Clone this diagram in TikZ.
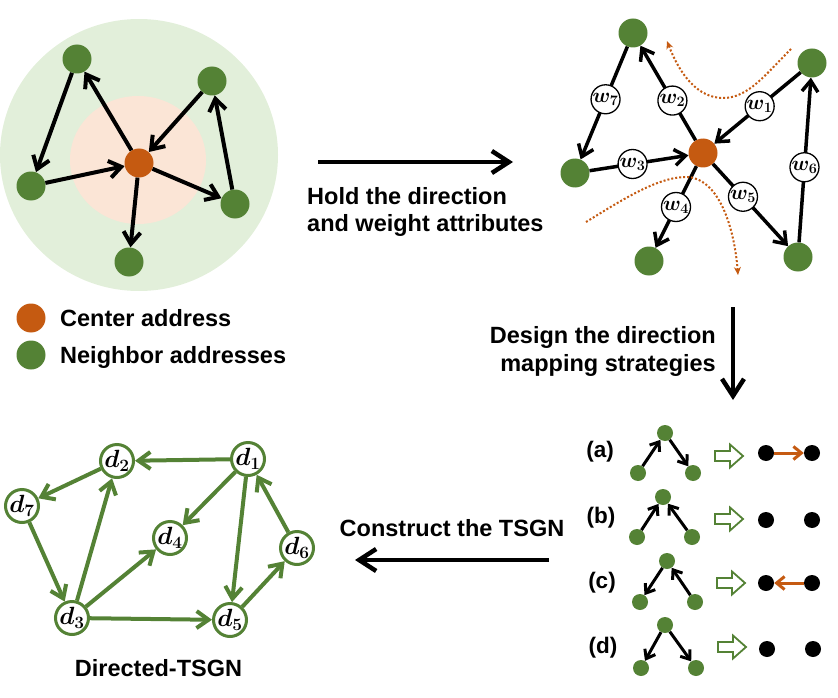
\documentclass[tikz,border=0pt]{standalone}
\usepackage{fontspec}
\setmainfont{Liberation Sans}
\usetikzlibrary{arrows.meta}
\definecolor{ngreen}{HTML}{548235}
\definecolor{corange}{HTML}{C55A11}
\definecolor{lgreen}{HTML}{E2EFDA}
\definecolor{lpink}{HTML}{FBE5D6}
\tikzset{
  hollowarr/.pic={\draw[ngreen, line width=1.8pt, fill=white, line join=miter]
    (0,-5) -- (15,-5) -- (15,-11.5) -- (28,0) -- (15,11.5) -- (15,5) -- (0,5) -- cycle;}
}
\begin{document}
\begin{tikzpicture}[x=1pt,y=-1pt,
  gnode/.style={circle, fill=ngreen, minimum size=29pt, inner sep=0},
  onode/.style={circle, fill=corange, minimum size=29pt, inner sep=0},
  sgnode/.style={circle, fill=ngreen, minimum size=16pt, inner sep=0},
  bdot/.style={circle, fill=black, minimum size=16pt, inner sep=0},
  wnode/.style={circle, draw=black, line width=1.3pt, fill=white, minimum size=29pt, inner sep=0,
    font=\fontsize{22}{24}\selectfont\boldmath},
  dnode/.style={circle, draw=ngreen, line width=3pt, fill=white, minimum size=30pt, inner sep=0,
    font=\fontsize{25}{26}\selectfont\boldmath},
  bedge/.style={line width=4pt, -{Straight Barb[length=12pt,width=17pt]}},
  medge/.style={line width=3.5pt, -{Straight Barb[length=11pt,width=16pt]}},
  gedge/.style={draw=ngreen, line width=4pt, -{Straight Barb[length=12pt,width=17pt]}},
  sedge/.style={line width=3pt, -{Straight Barb[length=8pt,width=12pt]}},
  oedge/.style={draw=corange, line width=3pt, -{Straight Barb[length=8pt,width=13pt]}},
  parrow/.style={line width=4.5pt, -{Straight Barb[length=17pt,width=22pt]}},
  dotcurve/.style={draw=corange, line width=2pt, dash pattern=on 2pt off 2pt,
    -{Stealth[length=8pt,width=7pt]}},
  tlabel/.style={font=\fontsize{23.5}{27}\selectfont\bfseries, inner sep=0},
  slabel/.style={font=\fontsize{22.5}{25}\selectfont\bfseries, inner sep=0}
]
\useasboundingbox (0,0) rectangle (838,698);

% ---------- top-left graph ----------
\fill[lgreen] (139,155) ellipse [x radius=139, y radius=136];
\fill[lpink] (138,160) ellipse [x radius=68, y radius=64];
\node[onode] (c1) at (139,163) {};
\node[gnode] (a1) at (77,59) {};
\node[gnode] (b1) at (212,81) {};
\node[gnode] (e1) at (31,186) {};
\node[gnode] (f1) at (235,204) {};
\node[gnode] (g1) at (129,262) {};
\draw[bedge] (c1) -- (a1);
\draw[bedge] (b1) -- (c1);
\draw[bedge] (e1) -- (c1);
\draw[bedge] (c1) -- (f1);
\draw[bedge] (c1) -- (g1);
\draw[bedge] (a1) -- (e1);
\draw[bedge] (f1) -- (b1);

% legend
\node[onode] (lo) at (31,318) {};
\node[tlabel, anchor=base west] (lot) at (60,326) {Center address};
\node[gnode] (lg) at (31,355) {};
\node[tlabel, anchor=base west] (lgt) at (60,363.3) {Neighbor addresses};

% ---------- process arrow 1 ----------
\coordinate (p1s) at (318,162);
\coordinate (p1e) at (513,162);
\draw[parrow] (p1s) -- (p1e);
\node[tlabel, anchor=north west, align=left] (holdt) at (307,187) {Hold the direction\\and weight attributes};

% ---------- top-right graph ----------
\node[onode] (c2) at (703,153) {};
\node[gnode] (t1) at (633,33) {};
\node[gnode] (t2) at (812,63) {};
\node[gnode] (t3) at (575,173) {};
\node[gnode] (t4) at (649,261) {};
\node[gnode] (t5) at (798,257) {};
\draw[medge] (c2) -- node[wnode, pos=0.42] (w2) {$w_2$} (t1);
\draw[medge] (t2) -- node[wnode, pos=0.475] (w1) {$w_1$} (c2);
\draw[medge] (t3) -- node[wnode, pos=0.435] (w3) {$w_3$} (c2);
\draw[medge] (c2) -- node[wnode, pos=0.5] (w4) {$w_4$} (t4);
\draw[medge] (c2) -- node[wnode, pos=0.40] (w5) {$w_5$} (t5);
\draw[medge] (t5) -- node[wnode, pos=0.456] (w6) {$w_6$} (t2);
\draw[medge] (t1) -- node[wnode, pos=0.467] (w7) {$w_7$} (t3);
% dotted partition curves
\coordinate (q1s) at (791,49);
\coordinate (q1m) at (723,98);
\coordinate (q1e) at (667,41);
\draw[dotcurve] (q1s) .. controls (765,75) and (748,98) .. (q1m) .. controls (698,98) and (680,75) .. (q1e);
\coordinate (q2s) at (586,222);
\coordinate (q2m) at (688,177);
\coordinate (q2e) at (738,275);
\draw[dotcurve] (q2s) .. controls (625,198) and (660,176) .. (q2m) .. controls (722,180) and (735,235) .. (q2e);

% ---------- process arrow 2 ----------
\coordinate (p2s) at (733,307);
\coordinate (p2e) at (733,400);
\draw[parrow] (p2s) -- (p2e);
\node[tlabel, anchor=north east, align=right, font=\fontsize{23.5}{28.5}\selectfont\bfseries] (dest) at (716,326) {Design the direction\\mapping strategies};

% ---------- strategies ----------
% (a)
\node[slabel, anchor=base] (la) at (600,457) {(a)};
\node[sgnode] (at) at (665,433) {};
\node[sgnode] (al) at (638,473) {};
\node[sgnode] (ar) at (693,473) {};
\draw[sedge] (al) -- (at);
\draw[sedge] (at) -- (ar);
\pic at (715,456) {hollowarr};
\node[bdot] (ad1) at (766,453) {};
\node[bdot] (ad2) at (812,453) {};
\draw[oedge] (ad1) -- (ad2);
% (b)
\node[slabel, anchor=base] (lb) at (601,523.5) {(b)};
\node[sgnode] (bt) at (663,497) {};
\node[sgnode] (bl) at (637,537) {};
\node[sgnode] (br) at (692,537) {};
\draw[sedge] (bl) -- (bt);
\draw[sedge] (br) -- (bt);
\pic at (715,519) {hollowarr};
\node[bdot] (bd1) at (766,520) {};
\node[bdot] (bd2) at (812,520) {};
% (c)
\node[slabel, anchor=base] (lc) at (602,588) {(c)};
\node[sgnode] (ct) at (667,561) {};
\node[sgnode] (cl) at (640,602) {};
\node[sgnode] (cr) at (695,602) {};
\draw[sedge] (ct) -- (cl);
\draw[sedge] (cr) -- (ct);
\pic at (717,583) {hollowarr};
\node[bdot] (cd1) at (766,583) {};
\node[bdot] (cd2) at (812,583) {};
\draw[oedge] (cd2) -- (cd1);
% (d)
\node[slabel, anchor=base] (ld) at (603,653.5) {(d)};
\node[sgnode] (dt) at (665,625) {};
\node[sgnode] (dl) at (641,668) {};
\node[sgnode] (dr) at (696,668) {};
\draw[sedge] (dt) -- (dl);
\draw[sedge] (dt) -- (dr);
\pic at (718,647) {hollowarr};
\node[bdot] (dd1) at (767,649) {};
\node[bdot] (dd2) at (813,649) {};

% ---------- process arrow 3 ----------
\coordinate (p3s) at (549,560);
\coordinate (p3e) at (355,560);
\draw[parrow] (p3s) -- (p3e);
\node[tlabel, anchor=base] (cons) at (452,536.7) {Construct the TSGN};

% ---------- directed TSGN ----------
\node[dnode] (d1) at (248,459) {$d_1$};
\node[dnode] (d2) at (117,461) {$d_2$};
\node[dnode] (d3) at (72,618) {$d_3$};
\node[dnode] (d4) at (170,538) {$d_4$};
\node[dnode] (d5) at (230,620) {$d_5$};
\node[dnode] (d6) at (297,548) {$d_6$};
\node[dnode] (d7) at (22,506) {$d_7$};
\draw[gedge] (d1) -- (d2);
\draw[gedge] (d2) -- (d7);
\draw[gedge] (d7) -- (d3);
\draw[gedge] (d3) -- (d2);
\draw[gedge] (d3) -- (d4);
\draw[gedge] (d3) -- (d5);
\draw[gedge] (d1) -- (d4);
\draw[gedge] (d1) -- (d5);
\draw[gedge] (d5) -- (d6);
\draw[gedge] (d6) -- (d1);
\node[tlabel, anchor=base] (dtsgn) at (158.5,676.5) {Directed-TSGN};
\end{tikzpicture}
\end{document}
